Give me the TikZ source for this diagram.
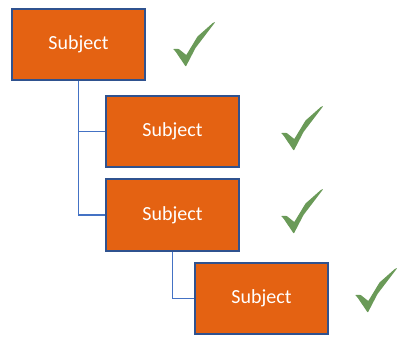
\documentclass[tikz,border=0pt]{standalone}
\usepackage{fontspec}
\setmainfont{Carlito}
\begin{document}
\begin{tikzpicture}[x=1pt,y=-1pt,
  subjbox/.style={draw=boxedge,fill=boxfill,line width=2.4pt,
    minimum width=132.5pt,minimum height=71.5pt,inner sep=0pt,
    text=white,font=\fontsize{20}{22}\selectfont},
  link/.style={draw=linkblue,line width=1.1pt},
  tick/.pic={
    \fill[tickgreen,rounded corners=0.6pt]
      (0,27) -- (2.5,29.5) -- (12.8,44.7) -- (22.5,26) -- (42.3,0)
      -- (40,0.8) -- (24.5,14.5) -- (13.3,33) -- (5.5,26.8) -- cycle;
  }]
\definecolor{boxfill}{HTML}{E46212}
\definecolor{boxedge}{HTML}{2F528F}
\definecolor{linkblue}{HTML}{4472C4}
\definecolor{tickgreen}{HTML}{6A9A58}
\useasboundingbox (0,0) rectangle (398,337);

% subject boxes
\node[subjbox] (s1) at (78.5,44.5)  {Subject};
\node[subjbox] (s2) at (172.5,131.5) {Subject};
\node[subjbox] (s3) at (172.5,215)   {Subject};
\node[subjbox] (s4) at (261.5,298.5) {Subject};

% elbow connectors
\draw[link] (s1.south) |- (s2.west);
\draw[link] (s1.south) |- (s3.west);
\draw[link] (s3.south) |- (s4.west);

% check marks
\pic at (173,22)  {tick};
\pic at (281,106) {tick};
\pic at (281,189) {tick};
\pic at (355,268) {tick};
\end{tikzpicture}
\end{document}
